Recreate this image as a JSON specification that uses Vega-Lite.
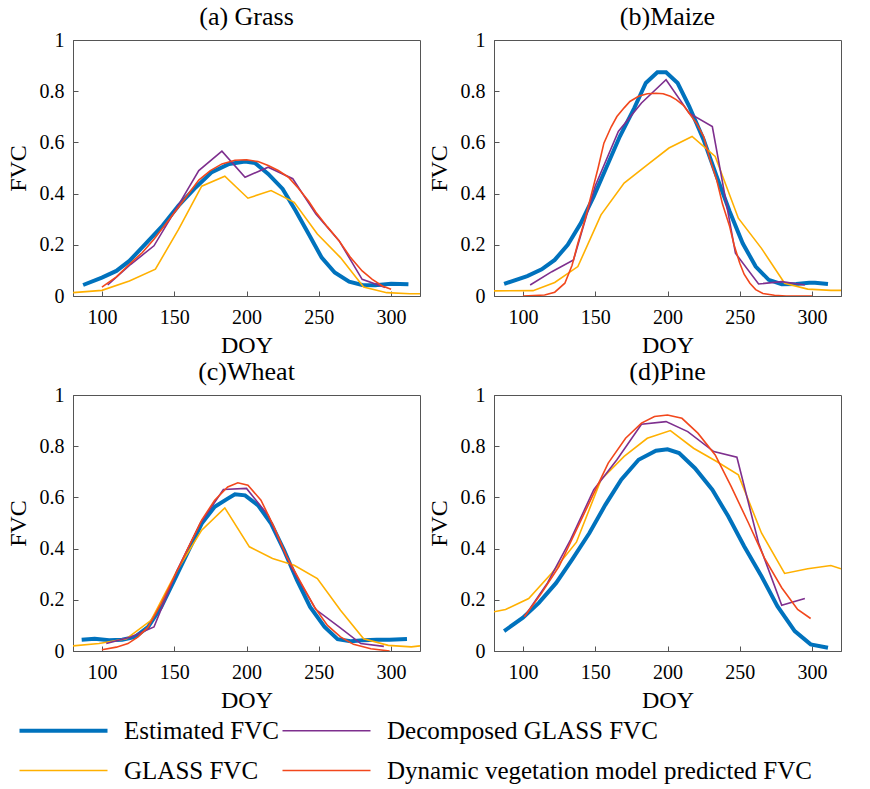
{
  "$schema": "https://vega.github.io/schema/vega-lite/v6.json",
  "padding": {"left": 5, "top": 3, "right": 5, "bottom": 0},
  "data": {"values": [
    {"panel":"(a) Grass","series":"Estimated","doy":87,"fvc":0.043},
    {"panel":"(a) Grass","series":"Estimated","doy":100,"fvc":0.072},
    {"panel":"(a) Grass","series":"Estimated","doy":110,"fvc":0.098},
    {"panel":"(a) Grass","series":"Estimated","doy":119,"fvc":0.137},
    {"panel":"(a) Grass","series":"Estimated","doy":130,"fvc":0.203},
    {"panel":"(a) Grass","series":"Estimated","doy":142,"fvc":0.275},
    {"panel":"(a) Grass","series":"Estimated","doy":153,"fvc":0.353},
    {"panel":"(a) Grass","series":"Estimated","doy":165,"fvc":0.425},
    {"panel":"(a) Grass","series":"Estimated","doy":176,"fvc":0.484},
    {"panel":"(a) Grass","series":"Estimated","doy":188,"fvc":0.516},
    {"panel":"(a) Grass","series":"Estimated","doy":199,"fvc":0.525},
    {"panel":"(a) Grass","series":"Estimated","doy":206,"fvc":0.519},
    {"panel":"(a) Grass","series":"Estimated","doy":215,"fvc":0.477},
    {"panel":"(a) Grass","series":"Estimated","doy":225,"fvc":0.418},
    {"panel":"(a) Grass","series":"Estimated","doy":234,"fvc":0.333},
    {"panel":"(a) Grass","series":"Estimated","doy":243,"fvc":0.242},
    {"panel":"(a) Grass","series":"Estimated","doy":252,"fvc":0.150},
    {"panel":"(a) Grass","series":"Estimated","doy":261,"fvc":0.092},
    {"panel":"(a) Grass","series":"Estimated","doy":271,"fvc":0.056},
    {"panel":"(a) Grass","series":"Estimated","doy":280,"fvc":0.043},
    {"panel":"(a) Grass","series":"Estimated","doy":289,"fvc":0.042},
    {"panel":"(a) Grass","series":"Estimated","doy":300,"fvc":0.048},
    {"panel":"(a) Grass","series":"Estimated","doy":312,"fvc":0.046},
    {"panel":"(a) Grass","series":"GLASS","doy":80,"fvc":0.013},
    {"panel":"(a) Grass","series":"GLASS","doy":100,"fvc":0.022},
    {"panel":"(a) Grass","series":"GLASS","doy":119,"fvc":0.059},
    {"panel":"(a) Grass","series":"GLASS","doy":137,"fvc":0.105},
    {"panel":"(a) Grass","series":"GLASS","doy":153,"fvc":0.26},
    {"panel":"(a) Grass","series":"GLASS","doy":169,"fvc":0.429},
    {"panel":"(a) Grass","series":"GLASS","doy":185,"fvc":0.468},
    {"panel":"(a) Grass","series":"GLASS","doy":201,"fvc":0.382},
    {"panel":"(a) Grass","series":"GLASS","doy":217,"fvc":0.412},
    {"panel":"(a) Grass","series":"GLASS","doy":233,"fvc":0.366},
    {"panel":"(a) Grass","series":"GLASS","doy":249,"fvc":0.242},
    {"panel":"(a) Grass","series":"GLASS","doy":265,"fvc":0.15},
    {"panel":"(a) Grass","series":"GLASS","doy":281,"fvc":0.035},
    {"panel":"(a) Grass","series":"GLASS","doy":297,"fvc":0.013},
    {"panel":"(a) Grass","series":"GLASS","doy":313,"fvc":0.009},
    {"panel":"(a) Grass","series":"GLASS","doy":320,"fvc":0.009},
    {"panel":"(a) Grass","series":"Decomposed","doy":104,"fvc":0.043},
    {"panel":"(a) Grass","series":"Decomposed","doy":120,"fvc":0.124},
    {"panel":"(a) Grass","series":"Decomposed","doy":136,"fvc":0.196},
    {"panel":"(a) Grass","series":"Decomposed","doy":152,"fvc":0.346},
    {"panel":"(a) Grass","series":"Decomposed","doy":167,"fvc":0.49},
    {"panel":"(a) Grass","series":"Decomposed","doy":183,"fvc":0.566},
    {"panel":"(a) Grass","series":"Decomposed","doy":199,"fvc":0.464},
    {"panel":"(a) Grass","series":"Decomposed","doy":215,"fvc":0.503},
    {"panel":"(a) Grass","series":"Decomposed","doy":232,"fvc":0.458},
    {"panel":"(a) Grass","series":"Decomposed","doy":248,"fvc":0.32},
    {"panel":"(a) Grass","series":"Decomposed","doy":264,"fvc":0.216},
    {"panel":"(a) Grass","series":"Decomposed","doy":280,"fvc":0.065},
    {"panel":"(a) Grass","series":"Decomposed","doy":296,"fvc":0.033},
    {"panel":"(a) Grass","series":"Dynamic","doy":100,"fvc":0.035},
    {"panel":"(a) Grass","series":"Dynamic","doy":110,"fvc":0.075},
    {"panel":"(a) Grass","series":"Dynamic","doy":119,"fvc":0.124},
    {"panel":"(a) Grass","series":"Dynamic","doy":128,"fvc":0.17},
    {"panel":"(a) Grass","series":"Dynamic","doy":136,"fvc":0.222},
    {"panel":"(a) Grass","series":"Dynamic","doy":144,"fvc":0.28},
    {"panel":"(a) Grass","series":"Dynamic","doy":152,"fvc":0.34},
    {"panel":"(a) Grass","series":"Dynamic","doy":160,"fvc":0.4},
    {"panel":"(a) Grass","series":"Dynamic","doy":167,"fvc":0.453},
    {"panel":"(a) Grass","series":"Dynamic","doy":175,"fvc":0.49},
    {"panel":"(a) Grass","series":"Dynamic","doy":183,"fvc":0.516},
    {"panel":"(a) Grass","series":"Dynamic","doy":192,"fvc":0.53},
    {"panel":"(a) Grass","series":"Dynamic","doy":200,"fvc":0.532},
    {"panel":"(a) Grass","series":"Dynamic","doy":208,"fvc":0.525},
    {"panel":"(a) Grass","series":"Dynamic","doy":215,"fvc":0.51},
    {"panel":"(a) Grass","series":"Dynamic","doy":222,"fvc":0.49},
    {"panel":"(a) Grass","series":"Dynamic","doy":229,"fvc":0.464},
    {"panel":"(a) Grass","series":"Dynamic","doy":236,"fvc":0.42},
    {"panel":"(a) Grass","series":"Dynamic","doy":243,"fvc":0.37},
    {"panel":"(a) Grass","series":"Dynamic","doy":248,"fvc":0.327},
    {"panel":"(a) Grass","series":"Dynamic","doy":256,"fvc":0.27},
    {"panel":"(a) Grass","series":"Dynamic","doy":264,"fvc":0.216},
    {"panel":"(a) Grass","series":"Dynamic","doy":272,"fvc":0.15},
    {"panel":"(a) Grass","series":"Dynamic","doy":280,"fvc":0.098},
    {"panel":"(a) Grass","series":"Dynamic","doy":287,"fvc":0.065},
    {"panel":"(a) Grass","series":"Dynamic","doy":294,"fvc":0.039},
    {"panel":"(a) Grass","series":"Dynamic","doy":300,"fvc":0.026},

    {"panel":"(b)Maize","series":"Estimated","doy":87,"fvc":0.047},
    {"panel":"(b)Maize","series":"Estimated","doy":103,"fvc":0.078},
    {"panel":"(b)Maize","series":"Estimated","doy":113,"fvc":0.104},
    {"panel":"(b)Maize","series":"Estimated","doy":122,"fvc":0.141},
    {"panel":"(b)Maize","series":"Estimated","doy":131,"fvc":0.2},
    {"panel":"(b)Maize","series":"Estimated","doy":140,"fvc":0.284},
    {"panel":"(b)Maize","series":"Estimated","doy":149,"fvc":0.389},
    {"panel":"(b)Maize","series":"Estimated","doy":158,"fvc":0.506},
    {"panel":"(b)Maize","series":"Estimated","doy":167,"fvc":0.623},
    {"panel":"(b)Maize","series":"Estimated","doy":177,"fvc":0.734},
    {"panel":"(b)Maize","series":"Estimated","doy":185,"fvc":0.832},
    {"panel":"(b)Maize","series":"Estimated","doy":193,"fvc":0.874},
    {"panel":"(b)Maize","series":"Estimated","doy":199,"fvc":0.874},
    {"panel":"(b)Maize","series":"Estimated","doy":207,"fvc":0.832},
    {"panel":"(b)Maize","series":"Estimated","doy":215,"fvc":0.741},
    {"panel":"(b)Maize","series":"Estimated","doy":225,"fvc":0.61},
    {"panel":"(b)Maize","series":"Estimated","doy":234,"fvc":0.467},
    {"panel":"(b)Maize","series":"Estimated","doy":243,"fvc":0.33},
    {"panel":"(b)Maize","series":"Estimated","doy":252,"fvc":0.206},
    {"panel":"(b)Maize","series":"Estimated","doy":261,"fvc":0.115},
    {"panel":"(b)Maize","series":"Estimated","doy":270,"fvc":0.063},
    {"panel":"(b)Maize","series":"Estimated","doy":279,"fvc":0.046},
    {"panel":"(b)Maize","series":"Estimated","doy":289,"fvc":0.047},
    {"panel":"(b)Maize","series":"Estimated","doy":298,"fvc":0.052},
    {"panel":"(b)Maize","series":"Estimated","doy":302,"fvc":0.052},
    {"panel":"(b)Maize","series":"Estimated","doy":311,"fvc":0.047},
    {"panel":"(b)Maize","series":"GLASS","doy":80,"fvc":0.02},
    {"panel":"(b)Maize","series":"GLASS","doy":107,"fvc":0.021},
    {"panel":"(b)Maize","series":"GLASS","doy":122,"fvc":0.053},
    {"panel":"(b)Maize","series":"GLASS","doy":138,"fvc":0.115},
    {"panel":"(b)Maize","series":"GLASS","doy":154,"fvc":0.317},
    {"panel":"(b)Maize","series":"GLASS","doy":170,"fvc":0.441},
    {"panel":"(b)Maize","series":"GLASS","doy":186,"fvc":0.512},
    {"panel":"(b)Maize","series":"GLASS","doy":201,"fvc":0.578},
    {"panel":"(b)Maize","series":"GLASS","doy":217,"fvc":0.623},
    {"panel":"(b)Maize","series":"GLASS","doy":233,"fvc":0.545},
    {"panel":"(b)Maize","series":"GLASS","doy":249,"fvc":0.304},
    {"panel":"(b)Maize","series":"GLASS","doy":265,"fvc":0.186},
    {"panel":"(b)Maize","series":"GLASS","doy":281,"fvc":0.05},
    {"panel":"(b)Maize","series":"GLASS","doy":297,"fvc":0.027},
    {"panel":"(b)Maize","series":"GLASS","doy":313,"fvc":0.022},
    {"panel":"(b)Maize","series":"GLASS","doy":320,"fvc":0.022},
    {"panel":"(b)Maize","series":"Decomposed","doy":105,"fvc":0.043},
    {"panel":"(b)Maize","series":"Decomposed","doy":120,"fvc":0.095},
    {"panel":"(b)Maize","series":"Decomposed","doy":135,"fvc":0.141},
    {"panel":"(b)Maize","series":"Decomposed","doy":150,"fvc":0.43},
    {"panel":"(b)Maize","series":"Decomposed","doy":166,"fvc":0.643},
    {"panel":"(b)Maize","series":"Decomposed","doy":182,"fvc":0.754},
    {"panel":"(b)Maize","series":"Decomposed","doy":199,"fvc":0.845},
    {"panel":"(b)Maize","series":"Decomposed","doy":215,"fvc":0.714},
    {"panel":"(b)Maize","series":"Decomposed","doy":231,"fvc":0.662},
    {"panel":"(b)Maize","series":"Decomposed","doy":247,"fvc":0.167},
    {"panel":"(b)Maize","series":"Decomposed","doy":263,"fvc":0.047},
    {"panel":"(b)Maize","series":"Decomposed","doy":279,"fvc":0.056},
    {"panel":"(b)Maize","series":"Decomposed","doy":295,"fvc":0.043},
    {"panel":"(b)Maize","series":"Dynamic","doy":100,"fvc":0},
    {"panel":"(b)Maize","series":"Dynamic","doy":115,"fvc":0.004},
    {"panel":"(b)Maize","series":"Dynamic","doy":122,"fvc":0.015},
    {"panel":"(b)Maize","series":"Dynamic","doy":129,"fvc":0.05},
    {"panel":"(b)Maize","series":"Dynamic","doy":134,"fvc":0.12},
    {"panel":"(b)Maize","series":"Dynamic","doy":138,"fvc":0.206},
    {"panel":"(b)Maize","series":"Dynamic","doy":143,"fvc":0.3},
    {"panel":"(b)Maize","series":"Dynamic","doy":147,"fvc":0.389},
    {"panel":"(b)Maize","series":"Dynamic","doy":152,"fvc":0.5},
    {"panel":"(b)Maize","series":"Dynamic","doy":156,"fvc":0.597},
    {"panel":"(b)Maize","series":"Dynamic","doy":161,"fvc":0.66},
    {"panel":"(b)Maize","series":"Dynamic","doy":165,"fvc":0.701},
    {"panel":"(b)Maize","series":"Dynamic","doy":170,"fvc":0.735},
    {"panel":"(b)Maize","series":"Dynamic","doy":174,"fvc":0.76},
    {"panel":"(b)Maize","series":"Dynamic","doy":180,"fvc":0.78},
    {"panel":"(b)Maize","series":"Dynamic","doy":186,"fvc":0.79},
    {"panel":"(b)Maize","series":"Dynamic","doy":192,"fvc":0.792},
    {"panel":"(b)Maize","series":"Dynamic","doy":197,"fvc":0.79},
    {"panel":"(b)Maize","series":"Dynamic","doy":202,"fvc":0.78},
    {"panel":"(b)Maize","series":"Dynamic","doy":206,"fvc":0.767},
    {"panel":"(b)Maize","series":"Dynamic","doy":211,"fvc":0.745},
    {"panel":"(b)Maize","series":"Dynamic","doy":215,"fvc":0.714},
    {"panel":"(b)Maize","series":"Dynamic","doy":220,"fvc":0.675},
    {"panel":"(b)Maize","series":"Dynamic","doy":225,"fvc":0.623},
    {"panel":"(b)Maize","series":"Dynamic","doy":229,"fvc":0.54},
    {"panel":"(b)Maize","series":"Dynamic","doy":234,"fvc":0.454},
    {"panel":"(b)Maize","series":"Dynamic","doy":238,"fvc":0.36},
    {"panel":"(b)Maize","series":"Dynamic","doy":243,"fvc":0.271},
    {"panel":"(b)Maize","series":"Dynamic","doy":246,"fvc":0.2},
    {"panel":"(b)Maize","series":"Dynamic","doy":250,"fvc":0.128},
    {"panel":"(b)Maize","series":"Dynamic","doy":253,"fvc":0.085},
    {"panel":"(b)Maize","series":"Dynamic","doy":257,"fvc":0.05},
    {"panel":"(b)Maize","series":"Dynamic","doy":261,"fvc":0.025},
    {"panel":"(b)Maize","series":"Dynamic","doy":266,"fvc":0.01},
    {"panel":"(b)Maize","series":"Dynamic","doy":274,"fvc":0.003},
    {"panel":"(b)Maize","series":"Dynamic","doy":282,"fvc":0},
    {"panel":"(b)Maize","series":"Dynamic","doy":300,"fvc":0},

    {"panel":"(c)Wheat","series":"Estimated","doy":86,"fvc":0.044},
    {"panel":"(c)Wheat","series":"Estimated","doy":95,"fvc":0.048},
    {"panel":"(c)Wheat","series":"Estimated","doy":105,"fvc":0.042},
    {"panel":"(c)Wheat","series":"Estimated","doy":114,"fvc":0.044},
    {"panel":"(c)Wheat","series":"Estimated","doy":123,"fvc":0.055},
    {"panel":"(c)Wheat","series":"Estimated","doy":132,"fvc":0.094},
    {"panel":"(c)Wheat","series":"Estimated","doy":141,"fvc":0.172},
    {"panel":"(c)Wheat","series":"Estimated","doy":150,"fvc":0.276},
    {"panel":"(c)Wheat","series":"Estimated","doy":160,"fvc":0.393},
    {"panel":"(c)Wheat","series":"Estimated","doy":169,"fvc":0.498},
    {"panel":"(c)Wheat","series":"Estimated","doy":178,"fvc":0.563},
    {"panel":"(c)Wheat","series":"Estimated","doy":187,"fvc":0.595},
    {"panel":"(c)Wheat","series":"Estimated","doy":192,"fvc":0.612},
    {"panel":"(c)Wheat","series":"Estimated","doy":199,"fvc":0.608},
    {"panel":"(c)Wheat","series":"Estimated","doy":208,"fvc":0.569},
    {"panel":"(c)Wheat","series":"Estimated","doy":217,"fvc":0.498},
    {"panel":"(c)Wheat","series":"Estimated","doy":226,"fvc":0.393},
    {"panel":"(c)Wheat","series":"Estimated","doy":235,"fvc":0.276},
    {"panel":"(c)Wheat","series":"Estimated","doy":244,"fvc":0.172},
    {"panel":"(c)Wheat","series":"Estimated","doy":254,"fvc":0.094},
    {"panel":"(c)Wheat","series":"Estimated","doy":263,"fvc":0.046},
    {"panel":"(c)Wheat","series":"Estimated","doy":272,"fvc":0.038},
    {"panel":"(c)Wheat","series":"Estimated","doy":281,"fvc":0.042},
    {"panel":"(c)Wheat","series":"Estimated","doy":290,"fvc":0.044},
    {"panel":"(c)Wheat","series":"Estimated","doy":299,"fvc":0.044},
    {"panel":"(c)Wheat","series":"Estimated","doy":311,"fvc":0.047},
    {"panel":"(c)Wheat","series":"GLASS","doy":80,"fvc":0.02},
    {"panel":"(c)Wheat","series":"GLASS","doy":98,"fvc":0.029},
    {"panel":"(c)Wheat","series":"GLASS","doy":117,"fvc":0.048},
    {"panel":"(c)Wheat","series":"GLASS","doy":134,"fvc":0.12},
    {"panel":"(c)Wheat","series":"GLASS","doy":152,"fvc":0.315},
    {"panel":"(c)Wheat","series":"GLASS","doy":169,"fvc":0.472},
    {"panel":"(c)Wheat","series":"GLASS","doy":185,"fvc":0.559},
    {"panel":"(c)Wheat","series":"GLASS","doy":202,"fvc":0.407},
    {"panel":"(c)Wheat","series":"GLASS","doy":218,"fvc":0.361},
    {"panel":"(c)Wheat","series":"GLASS","doy":233,"fvc":0.335},
    {"panel":"(c)Wheat","series":"GLASS","doy":249,"fvc":0.283},
    {"panel":"(c)Wheat","series":"GLASS","doy":265,"fvc":0.159},
    {"panel":"(c)Wheat","series":"GLASS","doy":281,"fvc":0.048},
    {"panel":"(c)Wheat","series":"GLASS","doy":298,"fvc":0.022},
    {"panel":"(c)Wheat","series":"GLASS","doy":314,"fvc":0.016},
    {"panel":"(c)Wheat","series":"GLASS","doy":320,"fvc":0.02},
    {"panel":"(c)Wheat","series":"Decomposed","doy":103,"fvc":0.029},
    {"panel":"(c)Wheat","series":"Decomposed","doy":120,"fvc":0.055},
    {"panel":"(c)Wheat","series":"Decomposed","doy":136,"fvc":0.094},
    {"panel":"(c)Wheat","series":"Decomposed","doy":152,"fvc":0.315},
    {"panel":"(c)Wheat","series":"Decomposed","doy":168,"fvc":0.498},
    {"panel":"(c)Wheat","series":"Decomposed","doy":184,"fvc":0.631},
    {"panel":"(c)Wheat","series":"Decomposed","doy":200,"fvc":0.635},
    {"panel":"(c)Wheat","series":"Decomposed","doy":215,"fvc":0.53},
    {"panel":"(c)Wheat","series":"Decomposed","doy":231,"fvc":0.328},
    {"panel":"(c)Wheat","series":"Decomposed","doy":248,"fvc":0.162},
    {"panel":"(c)Wheat","series":"Decomposed","doy":264,"fvc":0.094},
    {"panel":"(c)Wheat","series":"Decomposed","doy":279,"fvc":0.029},
    {"panel":"(c)Wheat","series":"Decomposed","doy":295,"fvc":0.018},
    {"panel":"(c)Wheat","series":"Dynamic","doy":100,"fvc":0.005},
    {"panel":"(c)Wheat","series":"Dynamic","doy":110,"fvc":0.015},
    {"panel":"(c)Wheat","series":"Dynamic","doy":118,"fvc":0.029},
    {"panel":"(c)Wheat","series":"Dynamic","doy":125,"fvc":0.055},
    {"panel":"(c)Wheat","series":"Dynamic","doy":132,"fvc":0.094},
    {"panel":"(c)Wheat","series":"Dynamic","doy":141,"fvc":0.185},
    {"panel":"(c)Wheat","series":"Dynamic","doy":150,"fvc":0.289},
    {"panel":"(c)Wheat","series":"Dynamic","doy":160,"fvc":0.407},
    {"panel":"(c)Wheat","series":"Dynamic","doy":169,"fvc":0.511},
    {"panel":"(c)Wheat","series":"Dynamic","doy":178,"fvc":0.589},
    {"panel":"(c)Wheat","series":"Dynamic","doy":187,"fvc":0.641},
    {"panel":"(c)Wheat","series":"Dynamic","doy":194,"fvc":0.657},
    {"panel":"(c)Wheat","series":"Dynamic","doy":201,"fvc":0.648},
    {"panel":"(c)Wheat","series":"Dynamic","doy":210,"fvc":0.589},
    {"panel":"(c)Wheat","series":"Dynamic","doy":219,"fvc":0.485},
    {"panel":"(c)Wheat","series":"Dynamic","doy":228,"fvc":0.367},
    {"panel":"(c)Wheat","series":"Dynamic","doy":238,"fvc":0.263},
    {"panel":"(c)Wheat","series":"Dynamic","doy":247,"fvc":0.172},
    {"panel":"(c)Wheat","series":"Dynamic","doy":256,"fvc":0.1},
    {"panel":"(c)Wheat","series":"Dynamic","doy":265,"fvc":0.055},
    {"panel":"(c)Wheat","series":"Dynamic","doy":274,"fvc":0.026},
    {"panel":"(c)Wheat","series":"Dynamic","doy":286,"fvc":0.009},
    {"panel":"(c)Wheat","series":"Dynamic","doy":299,"fvc":0},

    {"panel":"(d)Pine","series":"Estimated","doy":87,"fvc":0.078},
    {"panel":"(d)Pine","series":"Estimated","doy":100,"fvc":0.13},
    {"panel":"(d)Pine","series":"Estimated","doy":111,"fvc":0.188},
    {"panel":"(d)Pine","series":"Estimated","doy":123,"fvc":0.266},
    {"panel":"(d)Pine","series":"Estimated","doy":134,"fvc":0.357},
    {"panel":"(d)Pine","series":"Estimated","doy":146,"fvc":0.461},
    {"panel":"(d)Pine","series":"Estimated","doy":157,"fvc":0.571},
    {"panel":"(d)Pine","series":"Estimated","doy":168,"fvc":0.669},
    {"panel":"(d)Pine","series":"Estimated","doy":180,"fvc":0.747},
    {"panel":"(d)Pine","series":"Estimated","doy":192,"fvc":0.782},
    {"panel":"(d)Pine","series":"Estimated","doy":200,"fvc":0.788},
    {"panel":"(d)Pine","series":"Estimated","doy":208,"fvc":0.773},
    {"panel":"(d)Pine","series":"Estimated","doy":219,"fvc":0.714},
    {"panel":"(d)Pine","series":"Estimated","doy":231,"fvc":0.63},
    {"panel":"(d)Pine","series":"Estimated","doy":242,"fvc":0.526},
    {"panel":"(d)Pine","series":"Estimated","doy":253,"fvc":0.409},
    {"panel":"(d)Pine","series":"Estimated","doy":265,"fvc":0.292},
    {"panel":"(d)Pine","series":"Estimated","doy":276,"fvc":0.175},
    {"panel":"(d)Pine","series":"Estimated","doy":288,"fvc":0.078},
    {"panel":"(d)Pine","series":"Estimated","doy":299,"fvc":0.026},
    {"panel":"(d)Pine","series":"Estimated","doy":311,"fvc":0.013},
    {"panel":"(d)Pine","series":"GLASS","doy":80,"fvc":0.153},
    {"panel":"(d)Pine","series":"GLASS","doy":88,"fvc":0.162},
    {"panel":"(d)Pine","series":"GLASS","doy":104,"fvc":0.205},
    {"panel":"(d)Pine","series":"GLASS","doy":120,"fvc":0.305},
    {"panel":"(d)Pine","series":"GLASS","doy":137,"fvc":0.425},
    {"panel":"(d)Pine","series":"GLASS","doy":154,"fvc":0.669},
    {"panel":"(d)Pine","series":"GLASS","doy":170,"fvc":0.76},
    {"panel":"(d)Pine","series":"GLASS","doy":186,"fvc":0.831},
    {"panel":"(d)Pine","series":"GLASS","doy":202,"fvc":0.861},
    {"panel":"(d)Pine","series":"GLASS","doy":218,"fvc":0.792},
    {"panel":"(d)Pine","series":"GLASS","doy":234,"fvc":0.74},
    {"panel":"(d)Pine","series":"GLASS","doy":249,"fvc":0.688},
    {"panel":"(d)Pine","series":"GLASS","doy":265,"fvc":0.461},
    {"panel":"(d)Pine","series":"GLASS","doy":281,"fvc":0.303},
    {"panel":"(d)Pine","series":"GLASS","doy":297,"fvc":0.321},
    {"panel":"(d)Pine","series":"GLASS","doy":313,"fvc":0.334},
    {"panel":"(d)Pine","series":"GLASS","doy":320,"fvc":0.321},
    {"panel":"(d)Pine","series":"Decomposed","doy":101,"fvc":0.134},
    {"panel":"(d)Pine","series":"Decomposed","doy":117,"fvc":0.266},
    {"panel":"(d)Pine","series":"Decomposed","doy":133,"fvc":0.435},
    {"panel":"(d)Pine","series":"Decomposed","doy":149,"fvc":0.63},
    {"panel":"(d)Pine","series":"Decomposed","doy":165,"fvc":0.747},
    {"panel":"(d)Pine","series":"Decomposed","doy":182,"fvc":0.886},
    {"panel":"(d)Pine","series":"Decomposed","doy":199,"fvc":0.896},
    {"panel":"(d)Pine","series":"Decomposed","doy":214,"fvc":0.857},
    {"panel":"(d)Pine","series":"Decomposed","doy":232,"fvc":0.779},
    {"panel":"(d)Pine","series":"Decomposed","doy":248,"fvc":0.757},
    {"panel":"(d)Pine","series":"Decomposed","doy":263,"fvc":0.422},
    {"panel":"(d)Pine","series":"Decomposed","doy":279,"fvc":0.179},
    {"panel":"(d)Pine","series":"Decomposed","doy":295,"fvc":0.205},
    {"panel":"(d)Pine","series":"Dynamic","doy":101,"fvc":0.134},
    {"panel":"(d)Pine","series":"Dynamic","doy":113,"fvc":0.227},
    {"panel":"(d)Pine","series":"Dynamic","doy":125,"fvc":0.331},
    {"panel":"(d)Pine","series":"Dynamic","doy":136,"fvc":0.461},
    {"panel":"(d)Pine","series":"Dynamic","doy":148,"fvc":0.604},
    {"panel":"(d)Pine","series":"Dynamic","doy":159,"fvc":0.734},
    {"panel":"(d)Pine","series":"Dynamic","doy":171,"fvc":0.831},
    {"panel":"(d)Pine","series":"Dynamic","doy":182,"fvc":0.89},
    {"panel":"(d)Pine","series":"Dynamic","doy":191,"fvc":0.916},
    {"panel":"(d)Pine","series":"Dynamic","doy":200,"fvc":0.922},
    {"panel":"(d)Pine","series":"Dynamic","doy":210,"fvc":0.909},
    {"panel":"(d)Pine","series":"Dynamic","doy":221,"fvc":0.851},
    {"panel":"(d)Pine","series":"Dynamic","doy":233,"fvc":0.766},
    {"panel":"(d)Pine","series":"Dynamic","doy":244,"fvc":0.643},
    {"panel":"(d)Pine","series":"Dynamic","doy":256,"fvc":0.5},
    {"panel":"(d)Pine","series":"Dynamic","doy":267,"fvc":0.364},
    {"panel":"(d)Pine","series":"Dynamic","doy":279,"fvc":0.247},
    {"panel":"(d)Pine","series":"Dynamic","doy":290,"fvc":0.162},
    {"panel":"(d)Pine","series":"Dynamic","doy":299,"fvc":0.127}
  ]},
  "facet": {"field": "panel", "type": "nominal", "title": null,
    "header": {"labelFontSize": 26, "labelFont": "Liberation Serif", "labelPadding": 0, "labelColor": "#000"}},
  "columns": 2,
  "spacing": {"row": 0, "column": 5},
  "resolve": {"axis": {"x": "independent", "y": "independent"}},
  "spec": {
    "width": 347,
    "height": 256,
    "layer": [
      {
        "transform": [{"filter": "datum.series === 'Estimated'"}],
        "mark": {"type": "line", "strokeWidth": 4, "clip": true},
        "encoding": {
          "x": {"field": "doy", "type": "quantitative", "scale": {"domain": [80, 320], "nice": false, "zero": false},
                "axis": {"title": "DOY", "orient": "bottom", "values": [100, 150, 200, 250, 300], "labelFlush": false, "labelPadding": 16, "titlePadding": 6}},
          "y": {"field": "fvc", "type": "quantitative", "scale": {"domain": [0, 1]},
                "axis": {"title": "FVC", "orient": "left", "values": [0, 0.2, 0.4, 0.6, 0.8, 1], "format": "~g", "labelPadding": 14, "titlePadding": 9}},
          "color": {"field": "series", "type": "nominal",
            "scale": {"domain": ["Estimated", "Decomposed", "GLASS", "Dynamic"], "range": ["#0072BD", "#7E2F8E", "#FFB000", "#F2471C"]},
            "legend": {
              "labelExpr": "datum.value === 'Estimated' ? 'Estimated FVC' : datum.value === 'GLASS' ? 'GLASS FVC' : datum.value === 'Decomposed' ? 'Decomposed GLASS FVC' : 'Dynamic vegetation model predicted FVC'",
              "encode": {"symbols": {"update": {"strokeWidth": {"signal": "datum.value === 'Estimated' ? 4 : 1.6"}}}}
            }}
        }
      },
      {
        "transform": [{"filter": "datum.series !== 'Estimated'"}],
        "mark": {"type": "line", "strokeWidth": 1.6, "clip": true},
        "encoding": {
          "x": {"field": "doy", "type": "quantitative"},
          "y": {"field": "fvc", "type": "quantitative"},
          "color": {"field": "series", "type": "nominal"}
        }
      }
    ]
  },
  "config": {
    "font": "Liberation Serif",
    "view": {"stroke": "#555", "strokeWidth": 1},
    "axis": {"grid": false, "domainColor": "#555", "tickColor": "#555", "labelColor": "#000", "titleColor": "#000",
             "labelFontSize": 20, "titleFontSize": 24, "titleFontWeight": "normal", "labelFont": "Liberation Serif", "titleFont": "Liberation Serif",
             "tickSize": -5},
    "legend": {"orient": "none", "legendX": -22, "legendY": 678, "direction": "horizontal", "columns": 2, "title": null, "symbolType": "stroke", "symbolSize": 7744, "symbolStrokeWidth": 2,
               "labelFontSize": 25, "labelFont": "Liberation Serif", "labelColor": "#000", "labelLimit": 600, "columnPadding": 0, "rowPadding": 14, "labelOffset": 48}
  }
}
